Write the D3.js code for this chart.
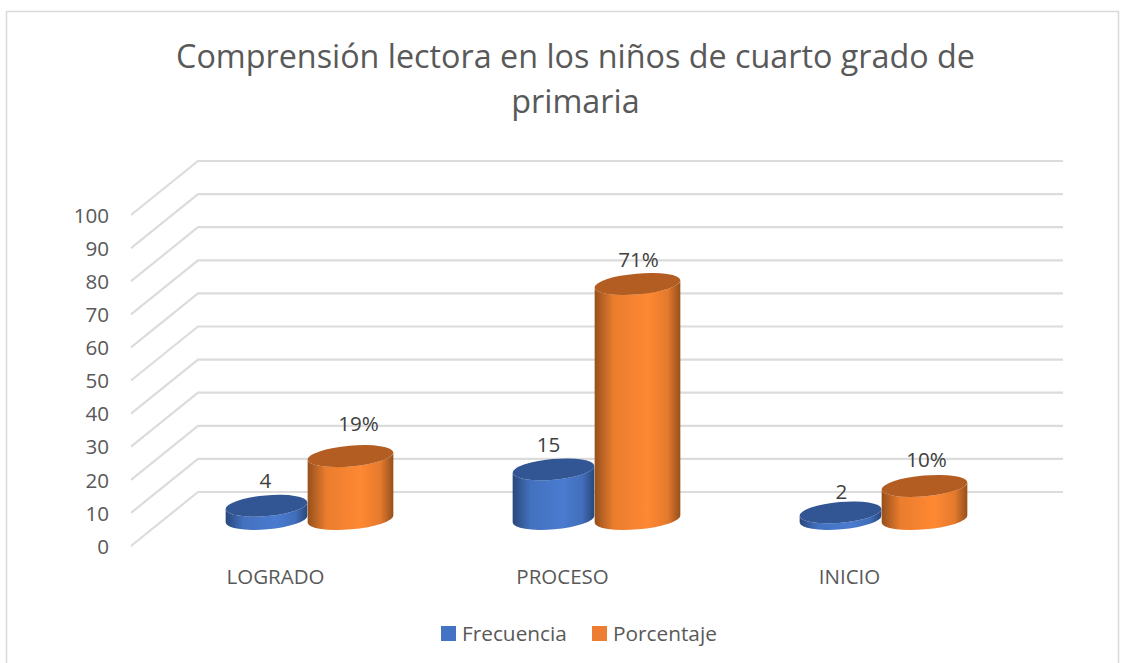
<!DOCTYPE html>
<html>
<head>
<meta charset="utf-8">
<script src="https://cdn.jsdelivr.net/npm/d3@7"></script>
<style>
  html, body { margin: 0; background: #fff; }
  svg, svg text { font-family: "Open Sans", sans-serif; }
  svg { display: block; }
  text { fill: #595959; }
</style>
</head>
<body>
<div id="chart"></div>
<script>
// values
const categories = ['LOGRADO', 'PROCESO', 'INICIO'];
const seriesNames = ['Frecuencia', 'Porcentaje'];
const frecuencia = [4, 15, 2];
const porcentaje = [19, 71, 10];
const yTicks = [0, 10, 20, 30, 40, 50, 60, 70, 80, 90, 100];
const titleLines = ['Comprensión lectora en los niños de cuarto grado de', 'primaria'];

const width = 1130, height = 663;

const svg = d3.select('#chart').append('svg')
    .attr('width', width)
    .attr('height', height)
    .attr('viewBox', `0 0 ${width} ${height}`);

// the fake 3d: front plane, floor centre (where the bars stand) and back wall
const depth = {x: 67, y: -54};
const yFront = d3.scaleLinear([0, 100], [546, 215]);
const yBars = d3.scaleLinear([0, 100], [519, 188]);
const yBack = v => yFront(v) + depth.y;

const wallLeft = 131, wallRight = 1063;
const x = d3.scaleBand(categories, [164, 1025]);
const center = c => x(c) + x.bandwidth() / 2;

const seriesColor = {
    Frecuencia: {legend: '#4472C4', cap: '#315693', dark: '#29487C', mid: '#4A7BD0', id: 'gradBlue'},
    Porcentaje: {legend: '#ED7D31', cap: '#B35D22', dark: '#96501C', mid: '#FF8833', id: 'gradOrange'}
};
const barRx = {Frecuencia: 41, Porcentaje: 43};
const barRy = 10.4;
const tilt = -5;

// gradients for the cylinder sides
const defs = svg.append('defs');
seriesNames.forEach(name => {
    const c = seriesColor[name];
    const g = defs.append('linearGradient').attr('id', c.id);
    g.append('stop').attr('offset', '0%').attr('stop-color', c.dark);
    g.append('stop').attr('offset', '22%').attr('stop-color', d3.interpolateRgb(c.dark, c.mid)(0.8));
    g.append('stop').attr('offset', '62%').attr('stop-color', c.mid);
    g.append('stop').attr('offset', '85%').attr('stop-color', d3.interpolateRgb(c.dark, c.mid)(0.75));
    g.append('stop').attr('offset', '100%').attr('stop-color', c.dark);
});

// chart frame
svg.append('path')
    .attr('d', `M6.5,${height}V11.5H1118.5V${height}`)
    .attr('fill', 'none')
    .attr('stroke', '#D9D9D9')
    .attr('stroke-width', 1.5);

// title
svg.append('g').selectAll('text')
    .data(titleLines)
    .join('text')
    .attr('x', 575.5)
    .attr('y', (d, i) => 68 + i * 45)
    .attr('text-anchor', 'middle')
    .style('font-size', '32.3px')
    .text(d => d);

// grid: diagonal on the side wall, horizontal on the back wall
const grid = svg.append('g')
    .attr('fill', 'none')
    .attr('stroke', '#DCDCDC')
    .attr('stroke-width', 2.2);
grid.selectAll('path')
    .data(yTicks)
    .join('path')
    .attr('d', d => `M${wallLeft},${yFront(d)}L${wallLeft + depth.x},${yBack(d)}H${wallRight}`);

// y axis
const axisY = svg.append('g')
    .attr('transform', `translate(${wallLeft - 16},0)`)
    .call(d3.axisLeft(yFront).tickValues(yTicks).tickSize(0).tickFormat(d3.format('d')));
axisY.select('.domain').remove();
axisY.selectAll('text').attr('dy', '0.35em').attr('x', -6).style('font-size', '20.6px').style('fill', '#595959');

// x axis, labels sit a bit left of the bars because of the perspective
const axisX = svg.append('g')
    .attr('transform', 'translate(-32,569)')
    .call(d3.axisBottom(x).tickSize(0));
axisX.select('.domain').remove();
axisX.selectAll('text').attr('y', 0).attr('dy', '0.71em').style('font-size', '20.5px').style('fill', '#595959');

// cylinders: flatten the series into rows, blue goes first so the orange overlaps it
const rows = categories.flatMap((c, i) => [
    {category: c, series: 'Frecuencia', value: frecuencia[i], label: String(frecuencia[i])},
    {category: c, series: 'Porcentaje', value: porcentaje[i], label: porcentaje[i] + '%'}
]);
const barX = d => center(d.category) + (d.series === 'Frecuencia' ? -barRx.Frecuencia : barRx.Porcentaje);

function sidePath(d) {
    const rx = barRx[d.series], cx = barX(d);
    const dx = rx * Math.cos(tilt * Math.PI / 180), dy = rx * Math.sin(tilt * Math.PI / 180);
    const top = yBars(d.value), base = yBars(0);
    return `M${cx - dx},${top - dy}L${cx - dx},${base - dy}` +
        `A${rx},${barRy} ${tilt} 0 0 ${cx + dx},${base + dy}` +
        `L${cx + dx},${top + dy}` +
        `A${rx},${barRy} ${tilt} 0 1 ${cx - dx},${top - dy}Z`;
}

const bars = svg.append('g').selectAll('g')
    .data(rows)
    .join('g');
bars.append('path')
    .attr('d', sidePath)
    .attr('fill', d => `url(#${seriesColor[d.series].id})`);
bars.append('ellipse')
    .attr('transform', d => `translate(${barX(d)},${yBars(d.value)})rotate(${tilt})`)
    .attr('rx', d => barRx[d.series])
    .attr('ry', barRy)
    .attr('fill', d => seriesColor[d.series].cap);

// data labels, nudged by hand like the original
const labelNudge = {
    'LOGRADO-Frecuencia': [-1, 0], 'LOGRADO-Porcentaje': [8, -7],
    'PROCESO-Frecuencia': [-5, 0], 'PROCESO-Porcentaje': [1, 1],
    'INICIO-Frecuencia': [1, 4], 'INICIO-Porcentaje': [2, -1]
};
svg.append('g').selectAll('text')
    .data(rows)
    .join('text')
    .attr('x', d => barX(d) + labelNudge[`${d.category}-${d.series}`][0])
    .attr('y', d => yBars(d.value) - 25 + labelNudge[`${d.category}-${d.series}`][1])
    .attr('dy', '0.35em')
    .attr('text-anchor', 'middle')
    .style('font-size', '20.6px')
    .style('fill', '#404040')
    .text(d => d.label);

// legend
const legendX = d3.scaleOrdinal(seriesNames, [441, 592]);
const legend = svg.append('g').selectAll('g')
    .data(seriesNames)
    .join('g')
    .attr('transform', d => `translate(${legendX(d)},626)`);
legend.append('rect')
    .attr('width', 15)
    .attr('height', 15)
    .attr('fill', d => seriesColor[d].legend);
legend.append('text')
    .attr('x', 21)
    .attr('y', 8)
    .attr('dy', '0.35em')
    .style('font-size', '20.8px')
    .text(d => d);
</script>
</body>
</html>
